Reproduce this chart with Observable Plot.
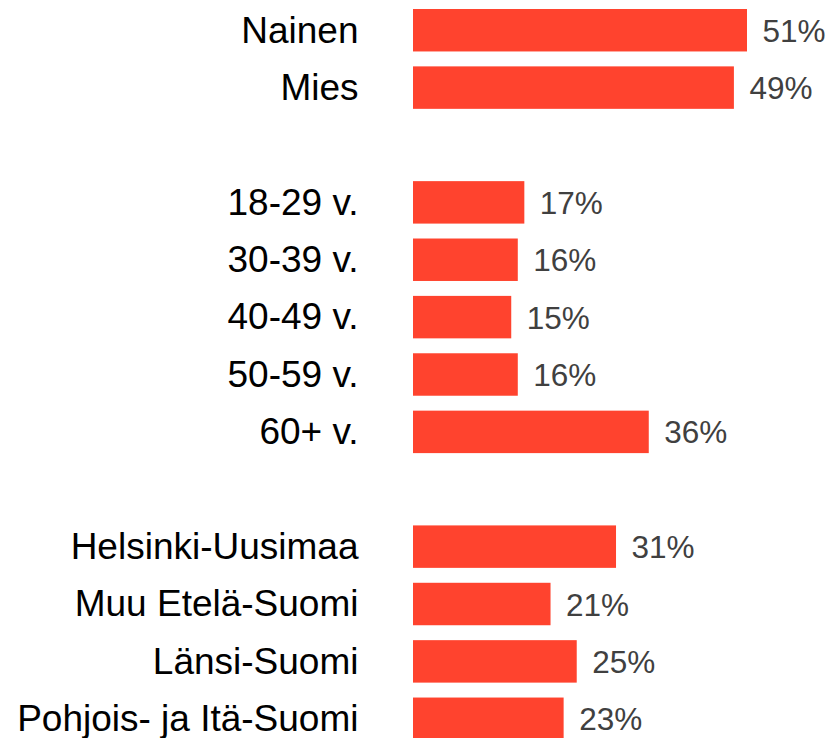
<!DOCTYPE html>
<html>
<head>
<meta charset="utf-8">
<script src="https://cdn.jsdelivr.net/npm/d3@7"></script>
<script src="https://cdn.jsdelivr.net/npm/@observablehq/plot@0.6"></script>
<style>
  html, body { margin: 0; padding: 0; background: #fff; }
  #chart svg { display: block; }
</style>
</head>
<body>
<div id="chart"></div>
<script>
// Row order (blank rows separate the groups)
const categories = [
  "Nainen", "Mies", " ",
  "18-29 v.", "30-39 v.", "40-49 v.", "50-59 v.", "60+ v.", "  ",
  "Helsinki-Uusimaa", "Muu Etelä-Suomi", "Länsi-Suomi", "Pohjois- ja Itä-Suomi"
];
const barCategories = [
  "Nainen", "Mies",
  "18-29 v.", "30-39 v.", "40-49 v.", "50-59 v.", "60+ v.",
  "Helsinki-Uusimaa", "Muu Etelä-Suomi", "Länsi-Suomi", "Pohjois- ja Itä-Suomi"
];
const values = [51, 49, 17, 16, 15, 16, 36, 31, 21, 25, 23];

const data = barCategories.map((c, i) => ({category: c, value: values[i]}));

const chart = Plot.plot({
  width: 833,
  height: 738,
  marginLeft: 413,
  marginRight: 86,
  marginTop: 0,
  marginBottom: 0,
  style: {fontFamily: "Arial, 'Liberation Sans', sans-serif", background: "#fff"},
  x: {domain: [0, 51], axis: null},
  y: {domain: categories, range: [9, 740], paddingInner: 0.26, paddingOuter: 0, align: 0, round: false, label: null},
  marks: [
    Plot.barX(data, {y: "category", x: "value", fill: "#ff432e"}),
    Plot.axisY({
      tickSize: 0,
      tickPadding: 55,
      fontSize: 37,
      color: "#000",
      label: null,
      tickFormat: d => d.trim()
    }),
    Plot.text(data, {
      y: "category",
      x: "value",
      text: d => d.value + "%",
      textAnchor: "start",
      dx: 15,
      dy: 1,
      fontSize: 31.5,
      fill: "#404040"
    })
  ]
});
document.getElementById("chart").appendChild(chart);
</script>
</body>
</html>
